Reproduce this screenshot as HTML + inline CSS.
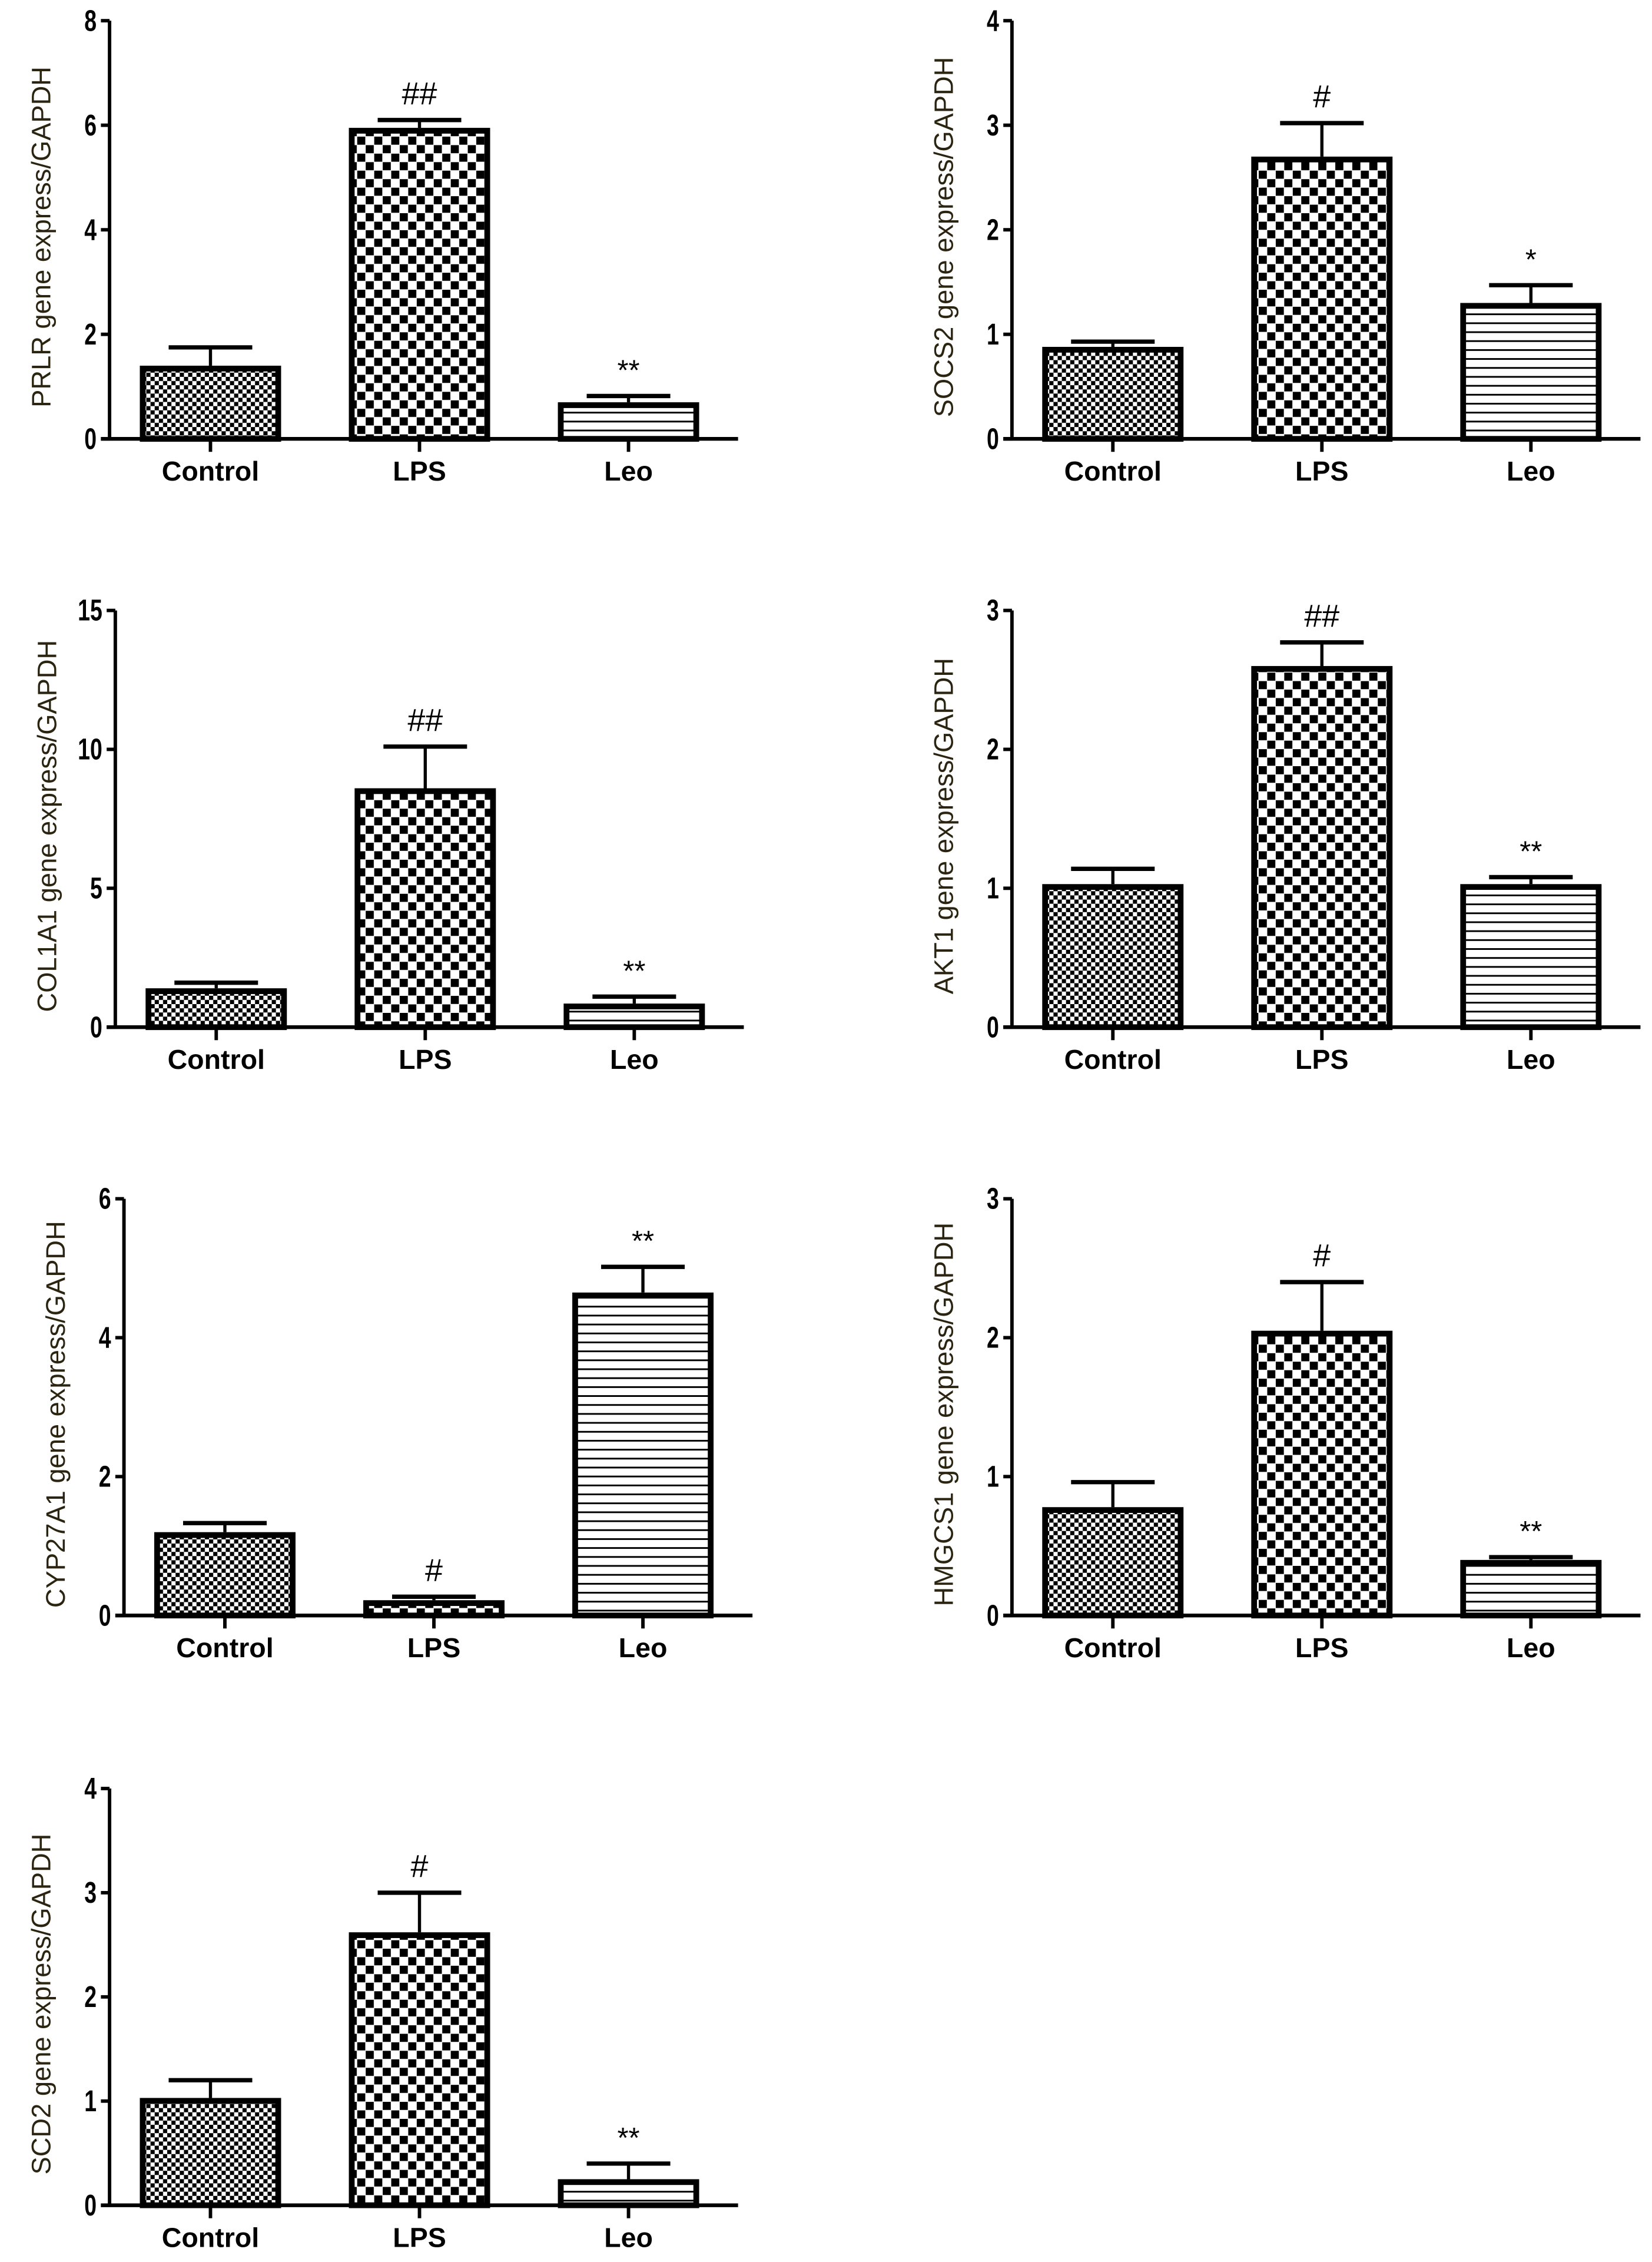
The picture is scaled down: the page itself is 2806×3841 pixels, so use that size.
<!DOCTYPE html>
<html><head><meta charset="utf-8"><style>
html,body{margin:0;padding:0;background:#fff;}
svg{display:block;}
text{font-family:"Liberation Sans",Arial,sans-serif;}
</style></head><body>
<svg id="fig" width="2806" height="3841" viewBox="0 0 1146 1568" xmlns="http://www.w3.org/2000/svg">
<defs>
<pattern id="pCtrl" width="5.8" height="5.8" patternUnits="userSpaceOnUse">
<rect width="5.8" height="5.8" fill="#fff"/><rect width="2.9" height="2.9" fill="#000"/><rect x="2.9" y="2.9" width="2.9" height="2.9" fill="#000"/>
</pattern>
<pattern id="pLps" width="11.8" height="11.8" patternUnits="userSpaceOnUse">
<rect width="11.8" height="11.8" fill="#fff"/><rect width="5.6" height="5.6" fill="#000"/><rect x="5.9" y="5.9" width="5.6" height="5.6" fill="#000"/>
</pattern>
<pattern id="pLeo" width="6" height="6.2" patternUnits="userSpaceOnUse">
<rect width="6" height="6.2" fill="#fff"/><rect y="0" width="6" height="1.2" fill="#000"/>
</pattern>
</defs>
<g id="charts"></g>
</svg>
<script>
const categories = ["Control", "LPS", "Leo"];
const fills = ["url(#pCtrl)", "url(#pLps)", "url(#pLeo)"];

const prlrMeans = [1.4, 5.95, 0.7];
const prlrErrors = [0.35, 0.15, 0.12];
const prlrTicks = [0, 2, 4, 6, 8];
const prlrMarks = ["", "##", "**"];

const socs2Means = [0.88, 2.7, 1.3];
const socs2Errors = [0.05, 0.32, 0.17];
const socs2Ticks = [0, 1, 2, 3, 4];
const socs2Marks = ["", "#", "*"];

const col1a1Means = [1.4, 8.6, 0.85];
const col1a1Errors = [0.2, 1.5, 0.25];
const col1a1Ticks = [0, 5, 10, 15];
const col1a1Marks = ["", "##", "**"];

const akt1Means = [1.03, 2.6, 1.03];
const akt1Errors = [0.11, 0.17, 0.05];
const akt1Ticks = [0, 1, 2, 3];
const akt1Marks = ["", "##", "**"];

const cypMeans = [1.2, 0.22, 4.65];
const cypErrors = [0.13, 0.05, 0.37];
const cypTicks = [0, 2, 4, 6];
const cypMarks = ["", "#", "**"];

const hmgMeans = [0.78, 2.05, 0.4];
const hmgErrors = [0.18, 0.35, 0.02];
const hmgTicks = [0, 1, 2, 3];
const hmgMarks = ["", "#", "**"];

const scdMeans = [1.03, 2.62, 0.25];
const scdErrors = [0.17, 0.38, 0.15];
const scdTicks = [0, 1, 2, 3, 4];
const scdMarks = ["", "#", "**"];

const NS = "http://www.w3.org/2000/svg";
const root = document.getElementById("charts");
function mk(tag, attrs, parent){const e=document.createElementNS(NS,tag);for(const k in attrs)e.setAttribute(k,attrs[k]);parent.appendChild(e);return e;}

function drawChart(id, title, means, errors, ticks, marks, L){
  const g = mk("g", {}, root);
  
  
  const ymax = ticks[ticks.length-1];
  const y = v => L.y0 - (v/ymax)*(L.y0 - L.yTop);
  const barW = 98, gap = 145;
  const xb = i => L.ax + 21 + i*gap;
  means.forEach((m,i)=>{
    const x0 = xb(i), cx = x0 + barW/2;
    const top = y(m + errors[i]);
    const eb = mk("line",{x1:cx,x2:cx,y1:y(m),y2:top,stroke:"#000","stroke-width":2.2},g);
    
    
    const cap = mk("line",{x1:cx-29,x2:cx+29,y1:top,y2:top,stroke:"#000","stroke-width":3},g);
    
    
    const r = mk("rect",{x:x0+2,y:y(m)+2,width:barW-4,height:Math.max(0,L.y0-y(m)-2),fill:fills[i],stroke:"#000","stroke-width":4},g);
    
    
    if(marks[i]){
      const t = mk("text",{x:cx,y:top-11,"text-anchor":"middle","font-size":marks[i].includes("#")?22:20,fill:"#000"},g);
      t.textContent = marks[i];
      
      
    }
    const tk = mk("line",{x1:cx,x2:cx,y1:L.y0,y2:L.y0+9,stroke:"#000","stroke-width":2.4},g);
    
    
    const cl = mk("text",{x:cx,y:L.y0+29,"text-anchor":"middle","font-size":19,"font-weight":"bold",fill:"#000"},g);
    cl.textContent = categories[i];
    
    
  });
  const ya = mk("line",{x1:L.ax,x2:L.ax,y1:L.yTop,y2:L.y0,stroke:"#000","stroke-width":2.4},g);
  
  
  const xa = mk("line",{x1:L.ax-6,x2:L.ax+436,y1:L.y0,y2:L.y0,stroke:"#000","stroke-width":2.6},g);
  
  
  ticks.forEach(v=>{
    const tl = mk("line",{x1:L.ax-6,x2:L.ax,y1:y(v),y2:y(v),stroke:"#000","stroke-width":2.4},g);
    
    
    const tt = mk("text",{x:L.ax-9,y:y(v)+7,"text-anchor":"end","font-size":18,"font-weight":"bold",fill:"#000",transform:`translate(${L.ax-9} ${y(v)+7}) scale(0.85 1.15) translate(${-(L.ax-9)} ${-(y(v)+7)})`},g);
    tt.textContent = v;
    
    
  });
  const cy = (L.yTop + L.y0)/2 + 5;
  const tx = L.ax - 41;
  const yt = mk("text",{x:tx,y:cy,"text-anchor":"middle","font-size":18.5,fill:"#2a2410",transform:`rotate(-90 ${tx} ${cy})`},g);
  yt.textContent = title;
  
  
}

drawChart("prlr","PRLR gene express/GAPDH",prlrMeans,prlrErrors,prlrTicks,prlrMarks,{ax:76,yTop:14,y0:304});
drawChart("socs2","SOCS2 gene express/GAPDH",socs2Means,socs2Errors,socs2Ticks,socs2Marks,{ax:702,yTop:14,y0:304});
drawChart("col1a1","COL1A1 gene express/GAPDH",col1a1Means,col1a1Errors,col1a1Ticks,col1a1Marks,{ax:80,yTop:423,y0:712});
drawChart("akt1","AKT1 gene express/GAPDH",akt1Means,akt1Errors,akt1Ticks,akt1Marks,{ax:702,yTop:423,y0:712});
drawChart("cyp27a1","CYP27A1 gene express/GAPDH",cypMeans,cypErrors,cypTicks,cypMarks,{ax:86,yTop:831,y0:1120});
drawChart("hmgcs1","HMGCS1 gene express/GAPDH",hmgMeans,hmgErrors,hmgTicks,hmgMarks,{ax:702,yTop:831,y0:1120});
drawChart("scd2","SCD2 gene express/GAPDH",scdMeans,scdErrors,scdTicks,scdMarks,{ax:76,yTop:1240,y0:1529});
</script>
</body></html>
